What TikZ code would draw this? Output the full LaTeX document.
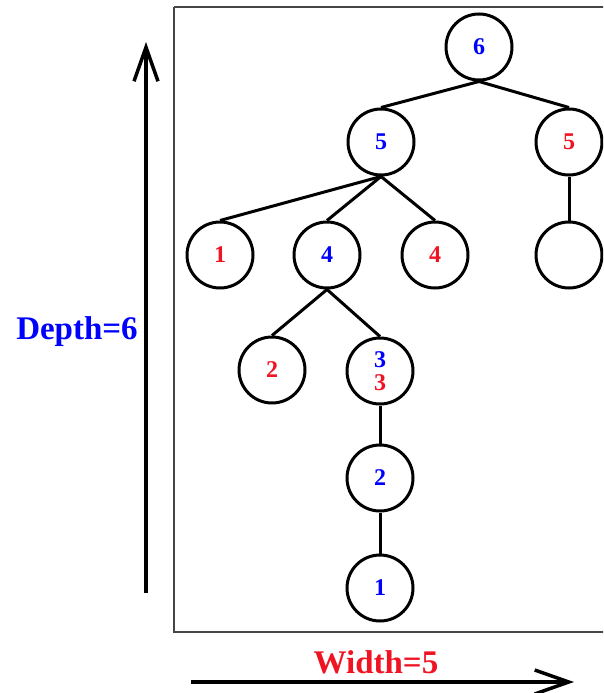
\documentclass[tikz,border=0pt]{standalone}
\usepackage{fontspec}
\setmainfont{Liberation Serif}
\usetikzlibrary{arrows.meta}
\definecolor{numblue}{RGB}{0,0,255}
\definecolor{numred}{RGB}{240,20,35}
\definecolor{framegray}{RGB}{70,70,70}
\tikzset{
  treenode/.style={circle, draw=black, line width=3pt, minimum size=66pt, inner sep=0pt,
    font=\fontsize{24}{25}\selectfont\bfseries},
  edge/.style={line width=3pt},
  axis/.style={line width=3.5pt, -{Straight Barb[length=34pt,width=24pt,line width=3.5pt]}},
  bluenum/.style={text=numblue},
  rednum/.style={text=numred},
  axislabel/.style={font=\fontsize{33}{35}\selectfont\bfseries, inner sep=0pt}
}
\begin{document}
\begin{tikzpicture}[x=1pt,y=-1pt]
  \useasboundingbox (0,0) rectangle (603,693);
  \clip (0,0) rectangle (603,693);
  % frame around the tree
  \draw[framegray, line width=1.5pt] (174,7) -- (620,7) (174,7) -- (174,632) -- (620,632);

  % tree nodes
  \node[treenode, bluenum] (n6) at (479,47) {6};
  \node[treenode, bluenum] (b5) at (381,142) {5};
  \node[treenode, rednum]  (r5) at (569,142) {5};
  \node[treenode, rednum]  (r1) at (220,255) {1};
  \node[treenode, bluenum] (b4) at (327,255) {4};
  \node[treenode, rednum]  (r4) at (435,255) {4};
  \node[treenode]          (e)  at (569,255) {};
  \node[treenode, rednum]  (r2) at (272,370) {2};
  \node[treenode, align=center] (c3) at (380,371)
    {\textcolor{numblue}{3}\\[-2pt]\textcolor{numred}{3}};
  \node[treenode, bluenum] (b2) at (380,478) {2};
  \node[treenode, bluenum] (b1) at (380,588) {1};

  % tree edges
  \draw[edge] (n6.south) -- (b5.north);
  \draw[edge] (n6.south) -- (r5.north);
  \draw[edge] (b5.south) -- (r1.north);
  \draw[edge] (b5.south) -- (b4.north);
  \draw[edge] (b5.south) -- (r4.north);
  \draw[edge] (r5.south) -- (e.north);
  \draw[edge] (b4.south) -- (r2.north);
  \draw[edge] (b4.south) -- (c3.north);
  \draw[edge] (c3.south) -- (b2.north);
  \draw[edge] (b2.south) -- (b1.north);

  % axes with their labels
  \coordinate (vbot) at (146,593);
  \coordinate (vtop) at (146,42);
  \draw[axis] (vbot) -- (vtop);
  \coordinate (hleft) at (191,682);
  \coordinate (hright) at (574,682);
  \draw[axis] (hleft) -- (hright);
  \node[axislabel, text=numblue, anchor=base] (depth) at (77,339) {Depth=6};
  \node[axislabel, text=numred, anchor=base] (width) at (376,673) {Width=5};
\end{tikzpicture}
\end{document}
